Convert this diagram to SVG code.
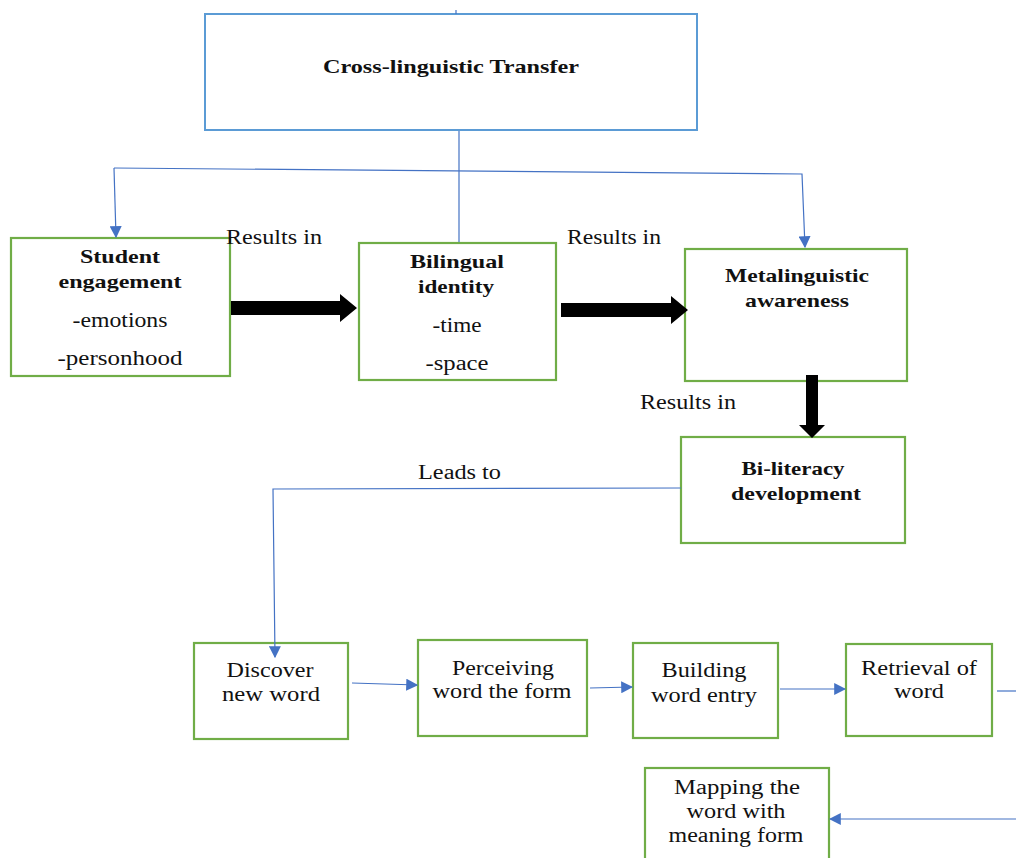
<svg xmlns="http://www.w3.org/2000/svg" width="1016" height="858" viewBox="0 0 1016 858">
<style>
.blue{fill:#fff;stroke:#5b9bd5;stroke-width:2}
.green{fill:#fff;stroke:#70ad47;stroke-width:2.2}
.t{font-family:"Liberation Serif","Times New Roman",serif;font-size:20px;fill:#111;text-anchor:middle}
.b{font-weight:bold;font-size:19px}
.lbl{font-family:"Liberation Serif","Times New Roman",serif;font-size:20px;fill:#111}
.conn{fill:none;stroke:#4472c4;stroke-width:1.2}
.thick{fill:#000}
</style>
<defs>
<marker id="ahb" viewBox="0 0 10 10" refX="9" refY="5" markerWidth="12" markerHeight="12" markerUnits="userSpaceOnUse" orient="auto"><path d="M0,0 L10,5 L0,10 z" fill="#4472c4"/></marker>
</defs>
<g id="cross-linguistic-transfer">
<rect class="blue" x="205" y="14" width="492" height="116"/>
<text class="t b" x="451" y="73" textLength="256" lengthAdjust="spacingAndGlyphs">Cross-linguistic Transfer</text>
</g>
<g id="student-engagement">
<rect class="green" x="11" y="238" width="219" height="138"/>
<text class="t b" x="120" y="263" textLength="80" lengthAdjust="spacingAndGlyphs">Student</text>
<text class="t b" x="120" y="288" textLength="123" lengthAdjust="spacingAndGlyphs">engagement</text>
<text class="t" x="120" y="327" textLength="95" lengthAdjust="spacingAndGlyphs">-emotions</text>
<text class="t" x="120" y="365" textLength="125" lengthAdjust="spacingAndGlyphs">-personhood</text>
</g>
<g id="bilingual-identity">
<rect class="green" x="359" y="243" width="197" height="137"/>
<text class="t b" x="457" y="268" textLength="94" lengthAdjust="spacingAndGlyphs">Bilingual</text>
<text class="t b" x="456" y="293" textLength="76" lengthAdjust="spacingAndGlyphs">identity</text>
<text class="t" x="457" y="332" textLength="49" lengthAdjust="spacingAndGlyphs">-time</text>
<text class="t" x="457" y="370" textLength="63" lengthAdjust="spacingAndGlyphs">-space</text>
</g>
<g id="metalinguistic-awareness">
<rect class="green" x="685" y="249" width="222" height="132"/>
<text class="t b" x="797" y="282" textLength="144" lengthAdjust="spacingAndGlyphs">Metalinguistic</text>
<text class="t b" x="797" y="307" textLength="104" lengthAdjust="spacingAndGlyphs">awareness</text>
</g>
<g id="bi-literacy-development">
<rect class="green" x="681" y="437" width="224" height="106"/>
<text class="t b" x="793" y="475" textLength="103" lengthAdjust="spacingAndGlyphs">Bi-literacy</text>
<text class="t b" x="796" y="500" textLength="130" lengthAdjust="spacingAndGlyphs">development</text>
</g>
<g id="discover-new-word">
<rect class="green" x="194" y="643" width="154" height="96"/>
<text class="t" x="270" y="677" textLength="87" lengthAdjust="spacingAndGlyphs">Discover</text>
<text class="t" x="271" y="701" textLength="98" lengthAdjust="spacingAndGlyphs">new word</text>
</g>
<g id="perceiving-word-form">
<rect class="green" x="418" y="640" width="169" height="96"/>
<text class="t" x="503" y="675" textLength="102" lengthAdjust="spacingAndGlyphs">Perceiving</text>
<text class="t" x="502" y="698" textLength="139" lengthAdjust="spacingAndGlyphs">word the form</text>
</g>
<g id="building-word-entry">
<rect class="green" x="633" y="643" width="145" height="95"/>
<text class="t" x="704" y="677" textLength="85" lengthAdjust="spacingAndGlyphs">Building</text>
<text class="t" x="704" y="702" textLength="106" lengthAdjust="spacingAndGlyphs">word entry</text>
</g>
<g id="retrieval-of-word">
<rect class="green" x="846" y="644" width="146" height="92"/>
<text class="t" x="919" y="675" textLength="116" lengthAdjust="spacingAndGlyphs">Retrieval of</text>
<text class="t" x="919" y="698" textLength="50" lengthAdjust="spacingAndGlyphs">word</text>
</g>
<g id="mapping-word-meaning">
<rect class="green" x="645" y="768" width="184" height="95"/>
<text class="t" x="737" y="794" textLength="126" lengthAdjust="spacingAndGlyphs">Mapping the</text>
<text class="t" x="736" y="818" textLength="99" lengthAdjust="spacingAndGlyphs">word with</text>
<text class="t" x="736" y="842" textLength="135" lengthAdjust="spacingAndGlyphs">meaning form</text>
</g>
<g id="labels">
<text class="lbl" x="226" y="244" textLength="96" lengthAdjust="spacingAndGlyphs">Results in</text>
<text class="lbl" x="567" y="244" textLength="94" lengthAdjust="spacingAndGlyphs">Results in</text>
<text class="lbl" x="640" y="409" textLength="96" lengthAdjust="spacingAndGlyphs">Results in</text>
<text class="lbl" x="418" y="479" textLength="83" lengthAdjust="spacingAndGlyphs">Leads to</text>
</g>
<g id="connectors">
<line class="conn" x1="456" y1="10" x2="456" y2="14"/>
<line class="conn" x1="459" y1="131" x2="459" y2="242"/>
<polyline class="conn" points="114,168 802,174 805,247" marker-end="url(#ahb)"/>
<line class="conn" x1="114" y1="168" x2="116" y2="237" marker-end="url(#ahb)"/>
<path class="thick" d="M231,301 H340 V294 L357,308 L340,322 V315 H231 Z"/>
<path class="thick" d="M561,303 H671 V296 L688,310 L671,324 V317 H561 Z"/>
<path class="thick" d="M806,375 H818 V425 H825 L812,438 L799,425 H806 Z"/>
<polyline class="conn" points="681,488 273,489 275,657" marker-end="url(#ahb)"/>
<line class="conn" x1="352" y1="683" x2="417" y2="685" marker-end="url(#ahb)"/>
<line class="conn" x1="590" y1="688" x2="632" y2="687" marker-end="url(#ahb)"/>
<line class="conn" x1="780" y1="689" x2="845" y2="689" marker-end="url(#ahb)"/>
<line class="conn" x1="997" y1="691" x2="1016" y2="691"/>
<line class="conn" x1="1016" y1="819" x2="830" y2="819" marker-end="url(#ahb)"/>
</g>
</svg>
